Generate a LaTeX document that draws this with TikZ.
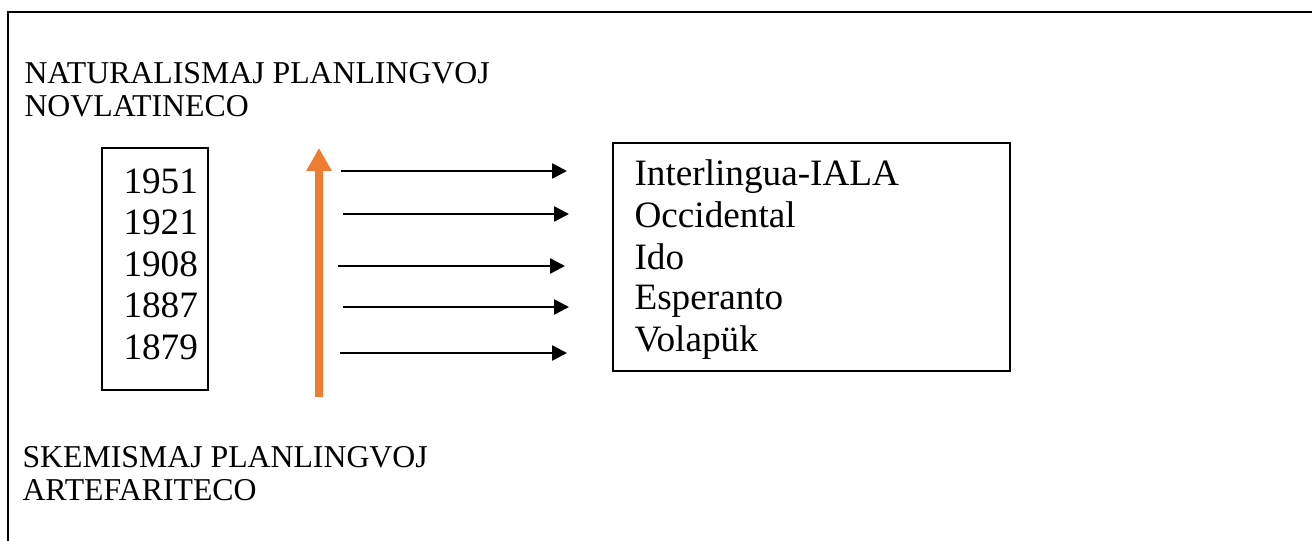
\documentclass[tikz,border=0pt]{standalone}
\usepackage{fontspec}
\setmainfont{Liberation Serif}
\usetikzlibrary{arrows.meta}
\definecolor{orangeArrow}{HTML}{ED7D31}
\begin{document}
\begin{tikzpicture}[x=0.387pt,y=-0.387pt,
  lbl/.style={anchor=base west,inner sep=0pt,font=\fontsize{12.3pt}{14pt}\selectfont},
  big/.style={anchor=base west,inner sep=0pt,font=\fontsize{14.4pt}{16pt}\selectfont},
  boxline/.style={draw=black,line width=0.8pt,inner sep=0pt},
  conn/.style={draw=black,line width=1pt,-{Triangle[length=5.8pt,width=5.8pt]}},
  up/.style={draw=orangeArrow,line width=3.1pt,-{Triangle[length=8.9pt,width=9.3pt]}}]
\useasboundingbox (0,0) rectangle (1312,541);
% frame (open at right and bottom)
\draw[line width=0.8pt] (1312,12) -- (8,12) -- (8,541);
% titles
\node[lbl] (t1) at (24,84) {NATURALISMAJ PLANLINGVOJ};
\node[lbl] (t2) at (24,117) {NOVLATINECO};
\node[lbl] (b1) at (22,467) {SKEMISMAJ PLANLINGVOJ};
\node[lbl] (b2) at (22,500) {ARTEFARITECO};
% boxes
\node[boxline,minimum width=41pt,minimum height=93.7pt] (ybox) at (155,269) {};
\node[boxline,minimum width=153.6pt,minimum height=88.2pt] (nbox) at (811.5,257) {};
% years
\node[big] (y1) at (123,193.3) {1951};
\node[big] (y2) at (123,234.6) {1921};
\node[big] (y3) at (123,276.2) {1908};
\node[big] (y4) at (123,317.8) {1887};
\node[big] (y5) at (123,359.4) {1879};
% names
\node[big] (n1) at (634,185.5) {Interlingua-IALA};
\node[big] (n2) at (634,227.5) {Occidental};
\node[big] (n3) at (634,269) {Ido};
\node[big] (n4) at (634,310) {Esperanto};
\node[big] (n5) at (634,351.5) {Volapük};
% orange arrow
\coordinate (ob) at (319,397);
\coordinate (ot) at (319,148);
\draw[up] (ob) -- (ot);
% connectors
\coordinate (a1) at (341,171);  \coordinate (e1) at (567,171);
\coordinate (a2) at (343,214);  \coordinate (e2) at (569,214);
\coordinate (a3) at (338,266);  \coordinate (e3) at (565,266);
\coordinate (a4) at (343,307);  \coordinate (e4) at (569,307);
\coordinate (a5) at (340,353);  \coordinate (e5) at (567,353);
\draw[conn] (a1) -- (e1);
\draw[conn] (a2) -- (e2);
\draw[conn] (a3) -- (e3);
\draw[conn] (a4) -- (e4);
\draw[conn] (a5) -- (e5);
\end{tikzpicture}
\end{document}
